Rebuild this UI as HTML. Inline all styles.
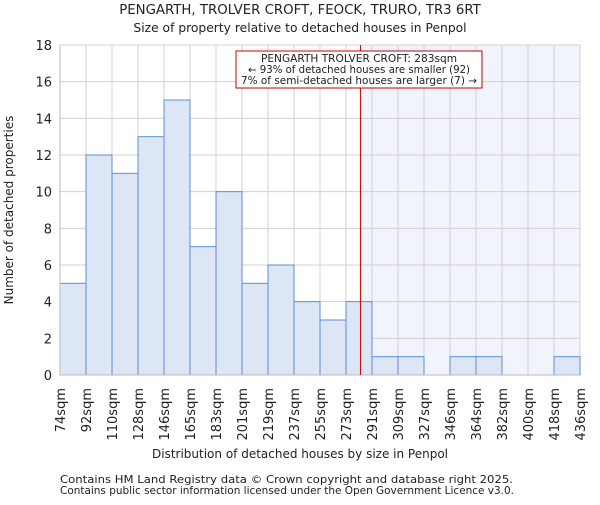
<!DOCTYPE html>
<html><head><meta charset="utf-8"><style>
body{margin:0;background:#fff;}
svg text{font-family:"DejaVu Sans","Liberation Sans",sans-serif;fill:#222;}
</style></head><body>
<svg width="600" height="500" xmlns="http://www.w3.org/2000/svg">
<text x="300" y="14" text-anchor="middle" font-size="13.3">PENGARTH, TROLVER CROFT, FEOCK, TRURO, TR3 6RT</text>
<text x="300" y="32" text-anchor="middle" font-size="12.3">Size of property relative to detached houses in Penpol</text>
<g id="plot"></g>
<text x="300" y="458" text-anchor="middle" font-size="12">Distribution of detached houses by size in Penpol</text>
<text transform="translate(13,210) rotate(-90)" text-anchor="middle" font-size="12">Number of detached properties</text>
<text x="60" y="483" font-size="10.5" fill="#444" textLength="453" lengthAdjust="spacingAndGlyphs">Contains HM Land Registry data © Crown copyright and database right 2025.</text>
<text x="60" y="494" font-size="10.5" fill="#444" textLength="454" lengthAdjust="spacingAndGlyphs">Contains public sector information licensed under the Open Government Licence v3.0.</text>
</svg>
<script>
const binLabels=["74sqm","92sqm","110sqm","128sqm","146sqm","165sqm","183sqm","201sqm","219sqm","237sqm","255sqm","273sqm","291sqm","309sqm","327sqm","346sqm","364sqm","382sqm","400sqm","418sqm","436sqm"];
const binEdges=[74,92,110,128,146,165,183,201,219,237,255,273,291,309,327,346,364,382,400,418,436];
const counts=[5,12,11,13,15,7,10,5,6,4,3,4,1,1,0,1,1,0,0,1];
const yTicks=[0,2,4,6,8,10,12,14,16,18];
const propertySize=283;
const NS="http://www.w3.org/2000/svg";
const L=60,R=580,T=45,B=375,YMAX=18;
const nb=counts.length,bw=(R-L)/nb;
function xi(i){return L+i*bw;}
function xv(v){for(let i=0;i<binEdges.length-1;i++){if(v<=binEdges[i+1])return xi(i)+(v-binEdges[i])/(binEdges[i+1]-binEdges[i])*bw;}return R;}
function y(v){return B-v/YMAX*(B-T);}
const g=document.getElementById('plot');
function mk(tag,a){const e=document.createElementNS(NS,tag);for(const k in a)e.setAttribute(k,a[k]);g.appendChild(e);return e;}
const px=xv(propertySize);
let e=mk('rect',{x:px,y:T,width:R-px,height:B-T,fill:'#f1f4fb'});


yTicks.forEach(t=>{const l=mk('line',{x1:L,x2:R,y1:y(t),y2:y(t),stroke:'#d0d0d0','stroke-width':1});


const tx=mk('text',{x:L-8,y:y(t)+5,'text-anchor':'end','font-size':13});tx.textContent=t;

});
binLabels.forEach((s,i)=>{const l=mk('line',{x1:xi(i),x2:xi(i),y1:T,y2:B,stroke:'#d0d0d0','stroke-width':1});


const tx=mk('text',{transform:`translate(${xi(i)+5},${B+13}) rotate(-90)`,'text-anchor':'end','font-size':13});tx.textContent=s;

});
counts.forEach((c,i)=>{if(c<=0)return;const r=mk('rect',{x:xi(i),y:y(c),width:bw,height:B-y(c),fill:'#dce6f4',stroke:'#5b8fd6','stroke-width':1});

});
e=mk('line',{x1:L,x2:L,y1:T,y2:B,stroke:'#bbb'});


e=mk('line',{x1:L,x2:R,y1:B,y2:B,stroke:'#bbb'});


e=mk('line',{x1:px,x2:px,y1:T,y2:B,stroke:'#cc0000','stroke-width':1});


e=mk('rect',{x:236,y:51,width:246,height:37,fill:'#fff',stroke:'#cc0000','stroke-width':1});


[["PENGARTH TROLVER CROFT: 283sqm",62,196],["← 93% of detached houses are smaller (92)",73,222],["7% of semi-detached houses are larger (7) →",84,236]].forEach(([s,yy,w])=>{const t=mk('text',{x:359,y:yy,'text-anchor':'middle','font-size':10.3,textLength:w,lengthAdjust:'spacingAndGlyphs'});t.textContent=s;

});
</script>
</body></html>
